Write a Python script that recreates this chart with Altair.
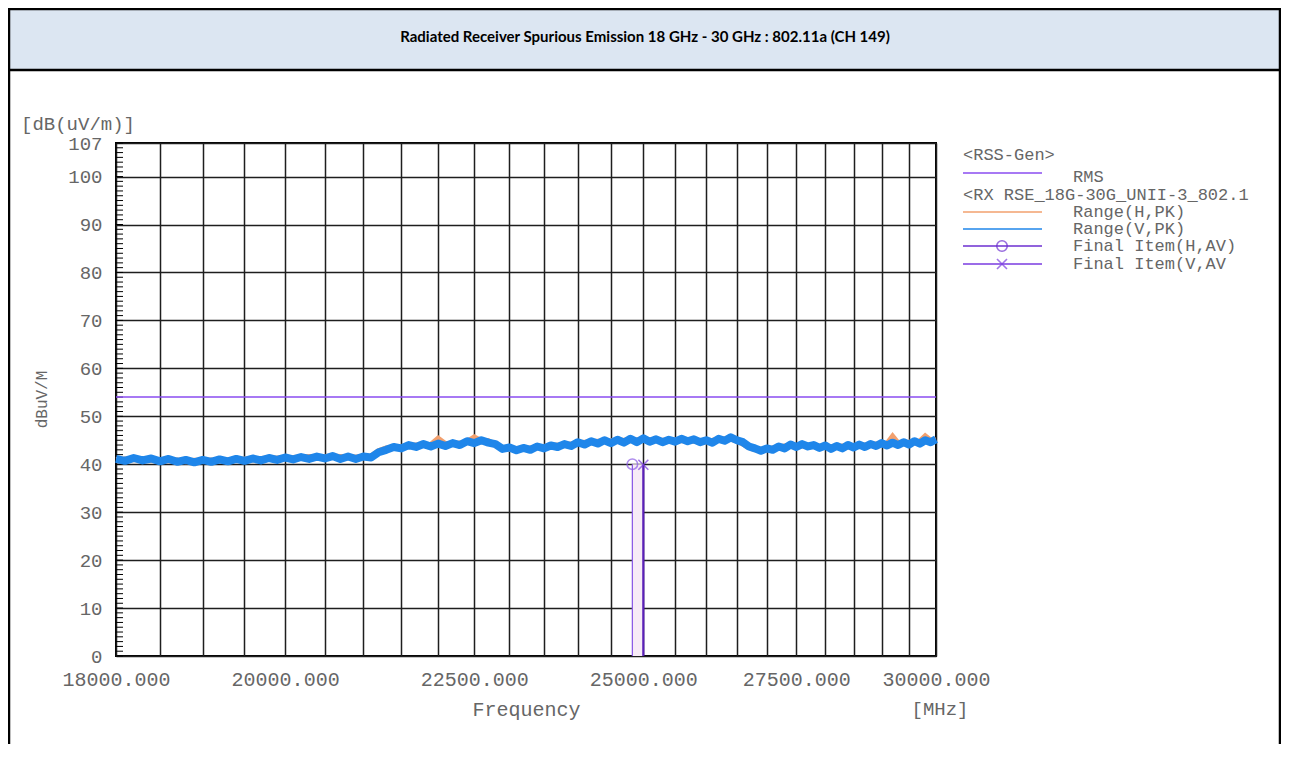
import altair as alt
import pandas as pd

# ---------------- data ----------------
freq = list(range(18000, 30001, 100))  # sweep points, MHz

level_v = [41.1, 40.7, 41.3, 40.8, 41.2, 40.6, 41.1, 40.5, 40.9, 40.4,
           40.9, 40.5, 41.0, 40.6, 41.1, 40.7, 41.2, 40.8, 41.3, 40.9,
           41.4, 41.0, 41.5, 41.1, 41.6, 41.2, 41.7, 41.1, 41.6, 41.1,
           41.6, 41.4, 42.5, 43.0, 43.6, 43.3, 44.0, 43.6, 44.2, 43.7,
           44.3, 43.8, 44.4, 44.0, 44.8, 44.4, 45.0, 44.5, 44.2, 43.2,
           43.5, 42.9, 43.4, 43.0, 43.7, 43.3, 43.9, 43.6, 44.2, 43.8,
           44.6, 44.1, 44.8, 44.3, 45.0, 44.4, 45.1, 44.5, 45.3, 44.6,
           45.4, 44.7, 45.2, 44.6, 45.1, 44.7, 45.3, 44.8, 45.2, 44.6,
           45.0, 44.5, 45.3, 44.9, 45.6, 45.0, 44.6, 43.7, 43.3, 42.8,
           43.3, 43.0, 43.7, 43.3, 44.1, 43.6, 44.2, 43.7, 44.0, 43.4,
           43.9, 43.2, 43.8, 43.3, 44.0, 43.5, 44.1, 43.6, 44.2, 43.8,
           44.4, 43.9, 44.5, 44.0, 44.6, 44.1, 44.8, 44.3, 45.0, 44.6,
           45.2]

level_h = [40.9, 41.0, 41.1, 41.0, 40.9, 40.9, 40.8, 40.8, 40.6, 40.7,
           40.7, 40.8, 40.8, 40.9, 40.9, 41.0, 41.0, 41.1, 41.2, 41.2,
           41.3, 41.3, 41.4, 41.5, 41.5, 41.5, 41.6, 41.5, 41.4, 41.4,
           41.5, 41.6, 42.7, 43.3, 43.5, 43.6, 43.8, 43.9, 44.0, 44.0,
           45.3, 44.2, 44.2, 44.3, 44.6, 45.6, 44.8, 44.8, 44.0, 43.4,
           43.2, 43.2, 43.3, 43.3, 43.5, 43.6, 43.8, 43.9, 44.0, 44.1,
           44.4, 44.5, 44.6, 44.7, 44.8, 44.8, 44.9, 44.9, 45.0, 45.0,
           45.1, 45.0, 45.0, 44.9, 44.9, 45.0, 45.0, 45.0, 44.9, 44.8,
           44.8, 44.9, 45.1, 45.2, 45.3, 45.0, 44.3, 43.6, 43.1, 43.0,
           43.1, 43.3, 43.5, 43.7, 43.9, 43.8, 43.9, 43.9, 43.8, 43.7,
           43.6, 43.6, 43.6, 43.7, 43.7, 43.8, 43.9, 43.9, 44.0, 44.1,
           44.2, 44.2, 45.7, 44.3, 44.4, 44.5, 44.6, 44.7, 45.8, 44.9,
           45.0]

limit_freq = [18000, 30000]
limit_level = [54.0, 54.0]

final_freq = [24830, 25000]
final_level = [40.0, 39.9]
final_pol = ["H", "V"]

x_grid = list(range(18000, 30001, 500))
x_labels = [18000, 20000, 22500, 25000, 27500, 30000]
y_ticks = [0, 10, 20, 30, 40, 50, 60, 70, 80, 90, 100, 107]
y_minor = list(range(0, 108))

title_text = "Radiated Receiver Spurious Emission 18 GHz - 30 GHz : 802.11a (CH 149)"
legend_head1 = "<RSS-Gen>"
legend_head2 = "<RX RSE_18G-30G_UNII-3_802.1"
legend_items = ["RMS", "Range(H,PK)", "Range(V,PK)", "Final Item(H,AV)", "Final Item(V,AV"]

# ---------------- styling ----------------
MONO = "Liberation Mono"
GREY = "#666666"
C_BLUE = "#1f86ea"
C_ORANGE = "#f2a06e"
C_LIMIT = "#8a4cf0"
C_FH = "#8c5ce6"
C_FV = "#5a1fb8"

W, H = 820, 513
PAD_L, PAD_T = 108, 135
TOTAL_W, TOTAL_H = 1273, 736

xs = alt.Scale(type="log", domain=[18000, 30000], nice=False)
ys = alt.Scale(domain=[0, 107], nice=False, zero=False)

label_expr = ("indexof([" + ",".join(str(v) for v in x_labels) +
              "], datum.value) >= 0 ? format(datum.value, '.3f') : ''")

xaxis = alt.Axis(values=x_grid, labelExpr=label_expr, title="Frequency",
                 grid=True, gridColor="#1e1e1e", gridWidth=1.5, gridOpacity=1,
                 domain=False, ticks=False, labelPadding=13,
                 labelFont=MONO, labelFontSize=20, labelColor=GREY,
                 labelFlush=False, labelOverlap=False, labelBound=False,
                 titleFont=MONO, titleFontSize=20, titleColor=GREY,
                 titleFontWeight="normal", titleY=53, titleBaseline="middle")
yaxis = alt.Axis(values=y_ticks, title="dBuV/M",
                 grid=True, gridColor="#1e1e1e", gridWidth=1.5, gridOpacity=1,
                 domain=False, ticks=False, labelPadding=14,
                 labelFont=MONO, labelFontSize=19, labelColor=GREY,
                 labelFlush=False, labelOverlap=False, labelBound=False,
                 titleFont=MONO, titleFontSize=16, titleColor=GREY,
                 titleFontWeight="normal", titleX=-75, titleY=256,
                 titleBaseline="middle")

X = alt.X("freq:Q", scale=xs, axis=xaxis)
Y = alt.Y("level:Q", scale=ys, axis=yaxis)

trace_h = pd.DataFrame({"freq": freq, "level": level_h})
trace_v = pd.DataFrame({"freq": freq, "level": level_v})
limit_df = pd.DataFrame({"freq": limit_freq, "level": limit_level})
final_df = pd.DataFrame({"freq": final_freq, "level": final_level,
                         "pol": final_pol, "base": [0.0, 0.0]})
minor_df = pd.DataFrame({"freq": [18000] * len(y_minor), "level": y_minor})

# header box and frame (pixel positions relative to plot origin)
frame_df = pd.DataFrame({"k": [0]})
header = alt.Chart(frame_df).mark_rect(fill="#dce6f2", stroke="black", strokeWidth=2.5).encode(
    x=alt.value(-107), x2=alt.value(1164), y=alt.value(-134), y2=alt.value(-73))
left_border = alt.Chart(frame_df).mark_rule(color="black", strokeWidth=2.5).encode(
    x=alt.value(-107), y=alt.value(-73), y2=alt.value(601))
right_border = alt.Chart(frame_df).mark_rule(color="black", strokeWidth=2.5).encode(
    x=alt.value(1164), y=alt.value(-73), y2=alt.value(601))
title = alt.Chart(pd.DataFrame({"t": [title_text]})).mark_text(
    font="Lato", fontSize=15, fontWeight="bold",
    color="black", align="center", baseline="middle").encode(
    text="t:N", x=alt.value(529), y=alt.value(-106))

unit_y = alt.Chart(pd.DataFrame({"t": ["[dB(uV/m)]"]})).mark_text(
    font=MONO, fontSize=19, color=GREY, align="left", baseline="middle").encode(
    text="t:N", x=alt.value(-95), y=alt.value(-19))
unit_x = alt.Chart(pd.DataFrame({"t": ["[MHz]"]})).mark_text(
    font=MONO, fontSize=19, color=GREY, align="center", baseline="middle").encode(
    text="t:N", x=alt.value(824), y=alt.value(566))

# data layers
minor = alt.Chart(minor_df).mark_rule(color="black", strokeWidth=1).encode(
    y=Y, x=alt.value(0), x2=alt.value(7))
limit = alt.Chart(limit_df).mark_line(color=C_LIMIT, strokeWidth=1.5).encode(x=X, y=Y)
line_h = alt.Chart(trace_h).mark_line(color=C_ORANGE, strokeWidth=6).encode(x=X, y=Y)
line_v = alt.Chart(trace_v).mark_line(color=C_BLUE, strokeWidth=8, strokeJoin="round").encode(x=X, y=Y)

band = alt.Chart(pd.DataFrame({"freq": [final_freq[0]], "freq2": [final_freq[1]],
                               "level": [final_level[0]], "base": [0.0]})).mark_rect(
    fill="#f7ebf7").encode(x=X, x2="freq2:Q", y=Y, y2="base:Q")
stem_h = alt.Chart(final_df[final_df.pol == "H"]).mark_rule(color=C_FH, strokeWidth=1.3).encode(
    x=X, y=Y, y2="base:Q")
stem_v = alt.Chart(final_df[final_df.pol == "V"]).mark_rule(color=C_FV, strokeWidth=2.2).encode(
    x=X, y=Y, y2="base:Q")
mark_h = alt.Chart(final_df[final_df.pol == "H"]).mark_point(
    shape="circle", filled=False, size=110, color=C_FH, strokeWidth=1.6).encode(x=X, y=Y)
mark_v = alt.Chart(final_df[final_df.pol == "V"]).mark_point(
    shape="M-1,-1L1,1M1,-1L-1,1", filled=False, size=100, color="#7a3be0", strokeWidth=1.6).encode(x=X, y=Y)

# legend (drawn by hand, like the instrument's)
LX0, LX1, LTX = 847, 926, 957
LFS = 17
leg = []
leg.append(alt.Chart(pd.DataFrame({"t": [legend_head1]})).mark_text(
    font=MONO, fontSize=LFS, color=GREY, align="left", baseline="middle").encode(
    text="t:N", x=alt.value(LX0), y=alt.value(12)))
leg.append(alt.Chart(pd.DataFrame({"t": [legend_head2]})).mark_text(
    font=MONO, fontSize=LFS, color=GREY, align="left", baseline="middle").encode(
    text="t:N", x=alt.value(LX0), y=alt.value(52)))
item_rows = [(30, 34, C_LIMIT), (69, 69, C_ORANGE), (86, 86, C_BLUE), (103, 103, "#6d2fd0"), (121, 121, "#7a3be0")]
for lab, (ly, ty, col) in zip(legend_items, item_rows):
    leg.append(alt.Chart(frame_df).mark_rule(color=col, strokeWidth=1.5).encode(
        x=alt.value(LX0), x2=alt.value(LX1), y=alt.value(ly)))
    leg.append(alt.Chart(pd.DataFrame({"t": [lab]})).mark_text(
        font=MONO, fontSize=LFS, color=GREY, align="left", baseline="middle").encode(
        text="t:N", x=alt.value(LTX), y=alt.value(ty)))
leg.append(alt.Chart(frame_df).mark_point(shape="circle", filled=False, size=110,
                                          color="#6d2fd0", strokeWidth=1.6).encode(
    x=alt.value(886), y=alt.value(103)))
leg.append(alt.Chart(frame_df).mark_point(shape="M-1,-1L1,1M1,-1L-1,1", filled=False, size=100,
                                          color="#7a3be0", strokeWidth=1.6).encode(
    x=alt.value(886), y=alt.value(121)))

chart = alt.layer(
    header, left_border, right_border, title, unit_y, unit_x,
    minor, limit, band, line_h, line_v, stem_h, stem_v, mark_h, mark_v,
    *leg
).properties(
    width=W, height=H,
    padding={"left": PAD_L, "top": PAD_T, "right": TOTAL_W - PAD_L - W, "bottom": TOTAL_H - PAD_T - H},
    autosize=alt.AutoSizeParams(type="none"),
    background="white",
).configure_view(stroke="black", strokeWidth=2)

chart.save("out.html", embed_options={"renderer": "svg", "actions": False})
